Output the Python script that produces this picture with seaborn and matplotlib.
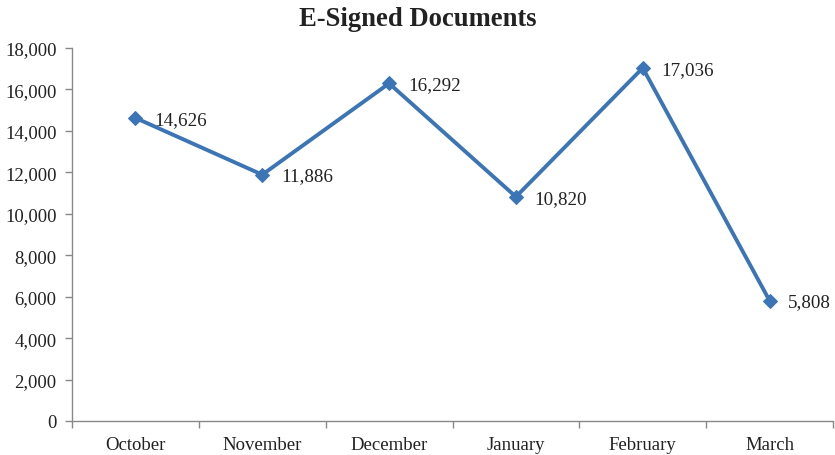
import matplotlib
matplotlib.use("Agg")
import matplotlib.pyplot as plt
import seaborn as sns
import pandas as pd
import numpy as np
from matplotlib.ticker import FixedLocator, FuncFormatter

months = ["October", "November", "December", "January", "February", "March"]
documents = [14626, 11886, 16292, 10820, 17036, 5808]

sns.set_style("white")
plt.rcParams["font.family"] = ["Liberation Serif", "DejaVu Serif"]

df = pd.DataFrame({"month": months, "documents": documents})
df["pos"] = np.arange(len(months))

fig = plt.figure(figsize=(8.35, 4.56), dpi=100)
ax = fig.add_axes([72 / 835, 1 - 422 / 456, (833 - 72) / 835, (422 - 49) / 456])

line_color = "#3C75B6"
sns.lineplot(data=df, x="pos", y="documents", ax=ax, color=line_color,
             linewidth=2.8, marker="D", markersize=7.5, markeredgecolor=line_color,
             sort=False)

for x, y in zip(df["pos"], df["documents"]):
    ax.annotate(f"{y:,}", (x, y), xytext=(13.5, -1), textcoords="offset points",
                ha="left", va="center", fontsize=13.7, color="#222222")

ax.set_xlim(-0.5, len(months) - 0.5)
ax.set_ylim(0, 18000)
ax.set_yticks(np.arange(0, 18001, 2000))
ax.yaxis.set_major_formatter(FuncFormatter(lambda v, _: f"{int(v):,}"))

ax.set_xticks(df["pos"])
ax.set_xticklabels(months)
ax.xaxis.set_minor_locator(FixedLocator(np.arange(-0.5, len(months), 1.0)))
ax.tick_params(axis="x", which="major", length=0, pad=10.5, labelsize=13.5, labelcolor="#222222")
ax.tick_params(axis="x", which="minor", length=5, width=1, color="#888888", direction="out")
ax.tick_params(axis="y", length=5, width=1, color="#888888", direction="out",
               pad=6, labelsize=13.5, labelcolor="#222222")
ax.tick_params(bottom=True, left=True, which="both")

for side in ["top", "right"]:
    ax.spines[side].set_visible(False)
for side in ["left", "bottom"]:
    ax.spines[side].set_color("#888888")
    ax.spines[side].set_linewidth(1)

ax.set_xlabel("")
ax.set_ylabel("")
ax.grid(False)
fig.suptitle("E-Signed Documents", y=1 - 19.5 / 456, va="center",
             fontsize=19.2, fontweight="bold", color="#222222")

fig.savefig("out.png", dpi=100)
